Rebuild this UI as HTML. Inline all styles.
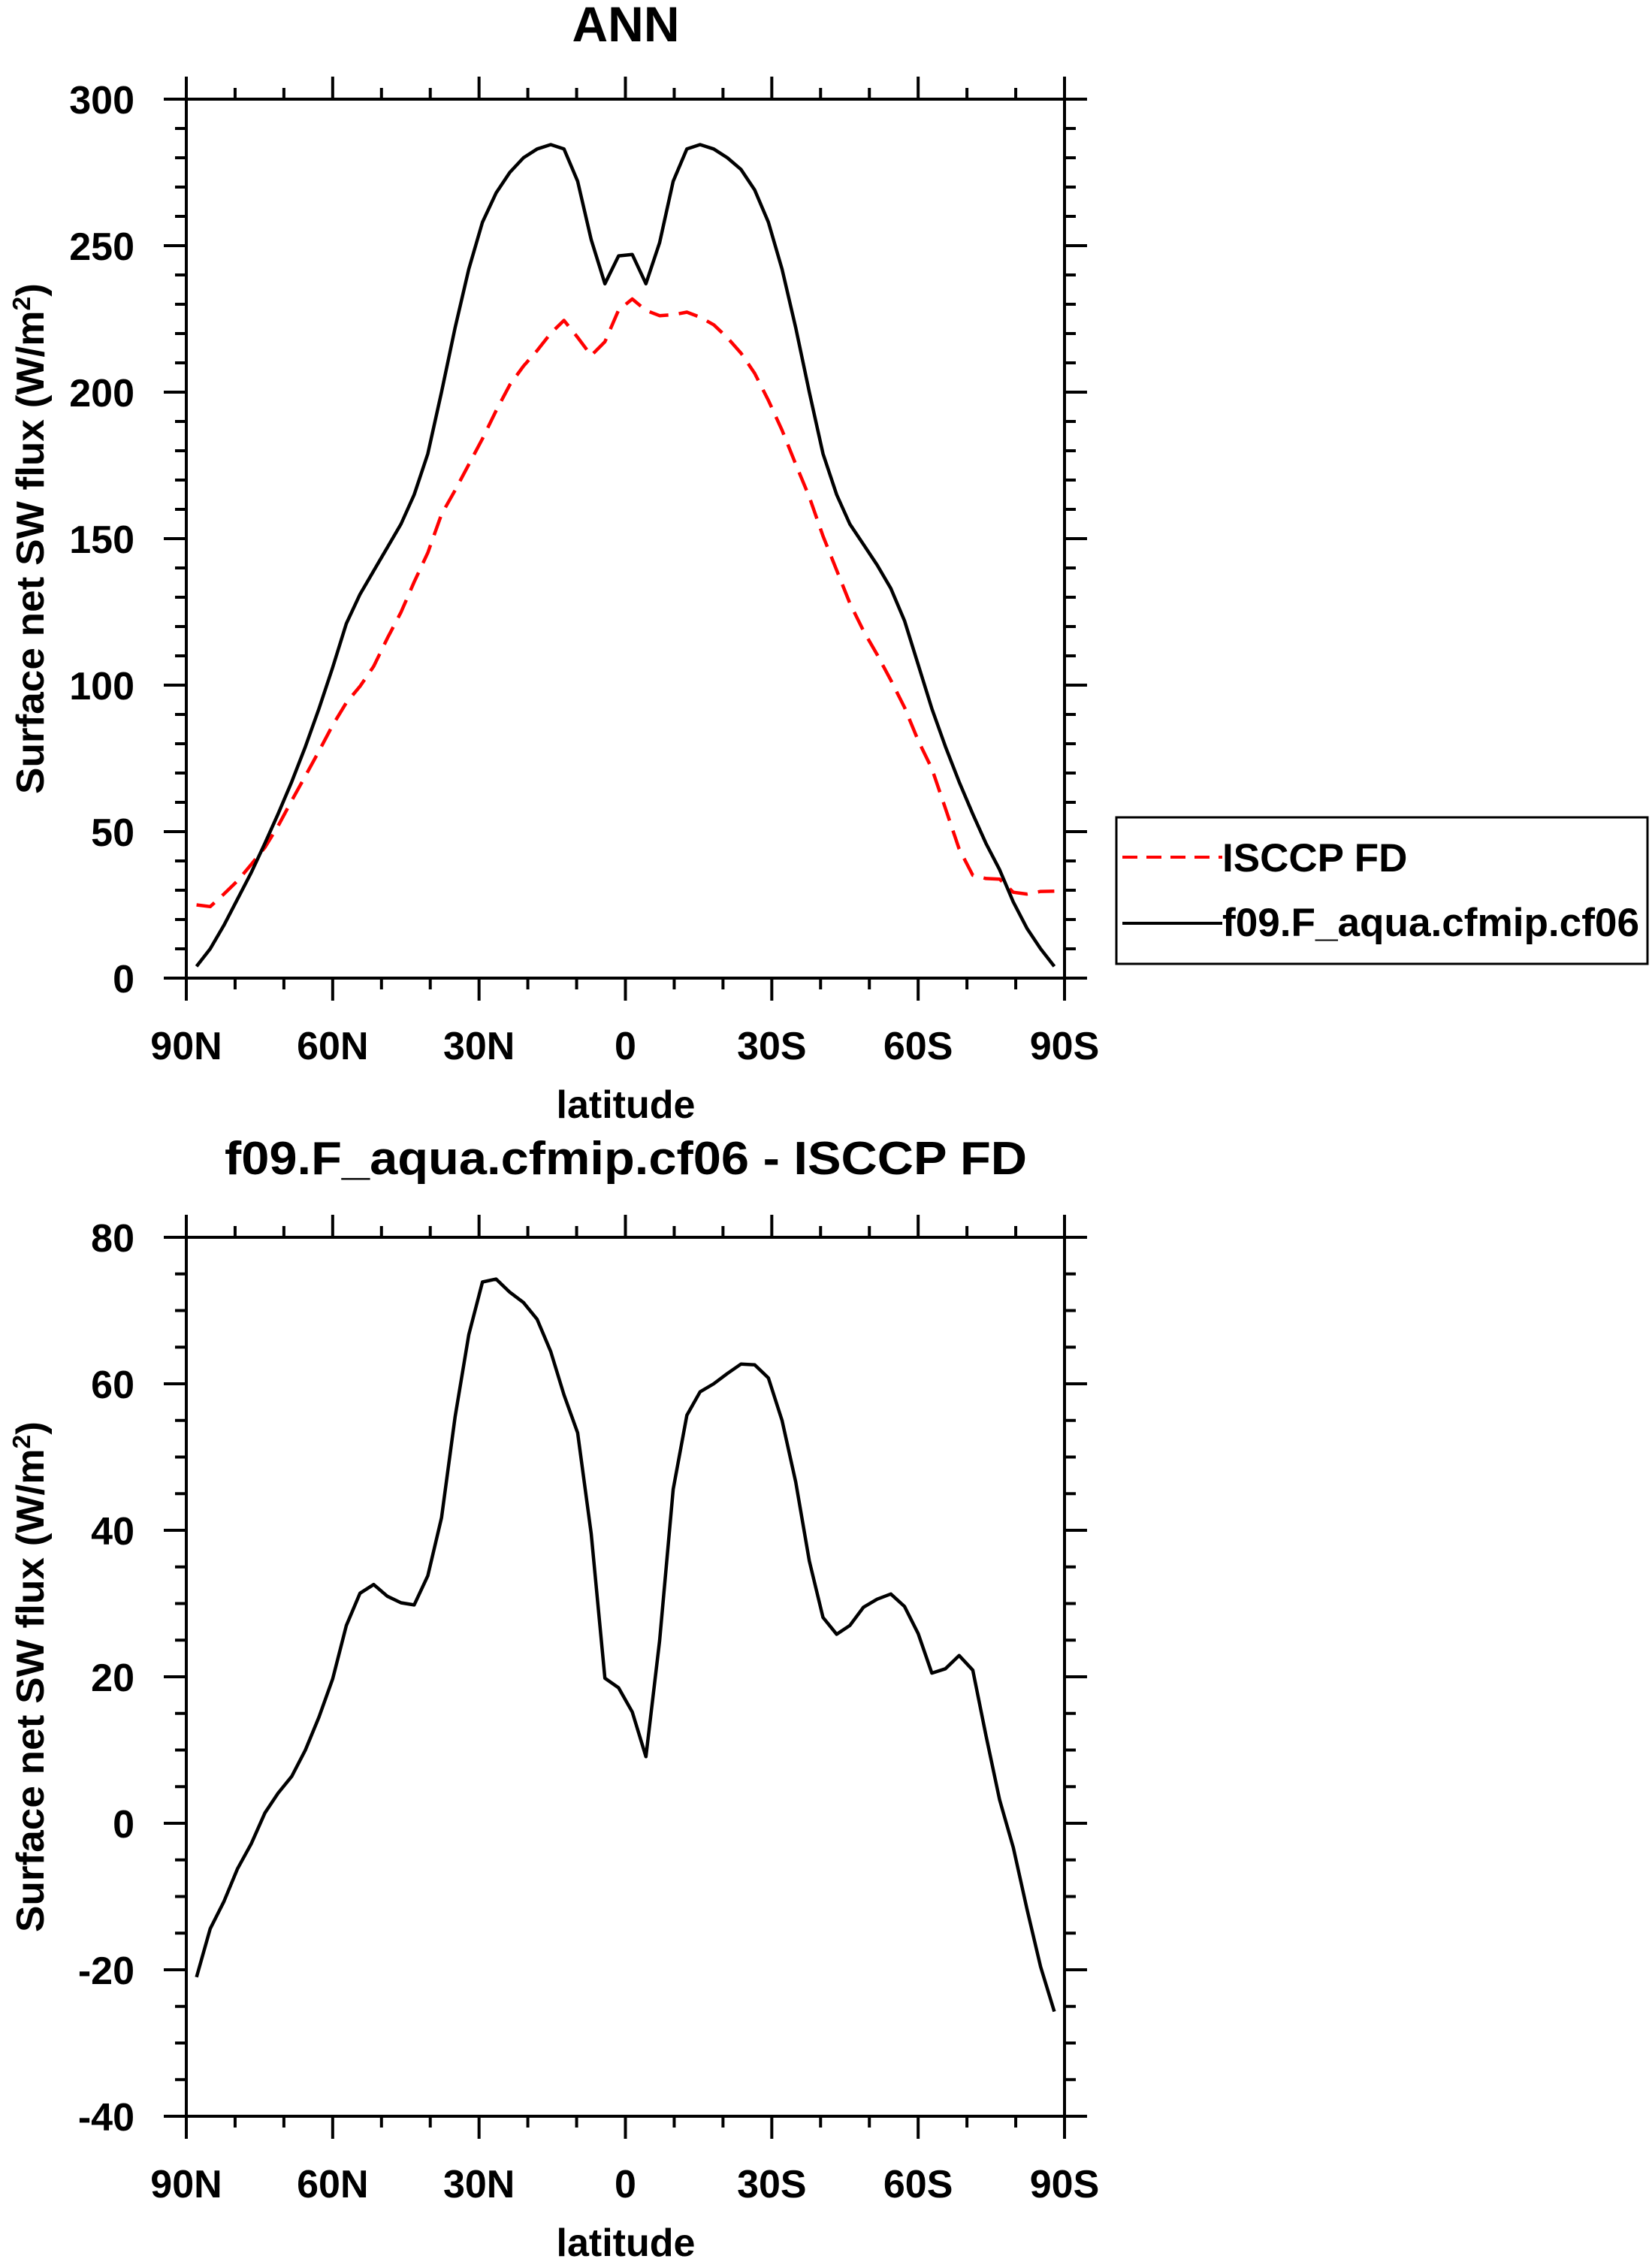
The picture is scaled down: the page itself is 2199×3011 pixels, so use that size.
<!DOCTYPE html>
<html><head><meta charset="utf-8"><style>
html,body{margin:0;padding:0;background:#fff;}
svg{display:block;font-family:"Liberation Sans",sans-serif;font-weight:bold;}
</style></head><body>
<svg id="chart" width="2199" height="3011" viewBox="0 0 2199 3011" xmlns="http://www.w3.org/2000/svg"></svg>
<script>
const lats = [87.9,85.1,82.3,79.5,76.7,73.9,71.2,68.4,65.6,62.8,60.0,57.2,54.4,51.6,48.8,46.0,43.3,40.5,37.7,34.9,32.1,29.3,26.5,23.7,20.9,18.1,15.3,12.6,9.8,7.0,4.2,1.4,
 -1.4,-4.2,-7.0,-9.8,-12.6,-15.3,-18.1,-20.9,-23.7,-26.5,-29.3,-32.1,-34.9,-37.7,-40.5,-43.3,-46.0,-48.8,-51.6,-54.4,-57.2,-60.0,-62.8,-65.6,-68.4,-71.2,-73.9,-76.7,-79.5,-82.3,-85.1,-87.9];
const modelVals = [4,10,18,27,36,46,56,67,79,92,106,121,131,139,147,155,165,179,200,222,242,258,268,275,280,283,284.5,283,272,252,237,246.5,
 247,237,251,272,283,284.5,283,280,276,269,258,242,222,200,179,165,155,148,141,133,122,107,92,79,67,56,46,37,26,17,10,4];
const obsVals = [25,24.4,28.7,33.2,38.8,44.6,51.9,60.6,69,77.5,86.3,94,99.6,106.4,116,124.9,135.2,145.2,158.3,166.5,175.3,184.1,193.7,202.5,208.9,214.2,220.1,224.5,218.7,212.5,217.2,228,
 231.8,227.9,226.1,226.4,227.3,225.6,223,218.6,213.3,206.4,197.2,187,175.4,164.2,150.9,139.2,128,118.5,110.4,101.7,92.4,81.1,71.5,57.9,44.1,35.1,34,33.8,29.3,28.7,29.6,29.7];
const diffVals = [-21,-14.4,-10.7,-6.2,-2.8,1.4,4.1,6.4,10,14.5,19.7,27,31.4,32.6,31,30.1,29.8,33.8,41.7,55.5,66.7,73.9,74.3,72.5,71.1,68.8,64.4,58.5,53.3,39.5,19.8,18.5,
 15.2,9.1,24.9,45.6,55.7,58.9,60,61.4,62.7,62.6,60.8,55,46.6,35.8,28.1,25.8,27,29.5,30.6,31.3,29.6,25.9,20.5,21.1,22.9,20.9,12,3.2,-3.3,-11.7,-19.6,-25.7];
const xTickVals = [90,60,30,0,-30,-60,-90];
const xTickLabels = ["90N","60N","30N","0","30S","60S","90S"];
const yTicksTop = [0,50,100,150,200,250,300];
const yTicksBot = [-40,-20,0,20,40,60,80];

const NS="http://www.w3.org/2000/svg";
const svg=document.getElementById('chart');
function mk(tag,attrs,parent){const e=document.createElementNS(NS,tag);for(const k in attrs)e.setAttribute(k,attrs[k]);(parent||svg).appendChild(e);return e;}

function panel(cfg){
  const L=248,R=1417,T=cfg.top,B=cfg.top+1170;
  const xs=v=>L+(90-v)/180*(R-L);
  const ys=v=>B-(v-cfg.ymin)/(cfg.ymax-cfg.ymin)*(B-T);
  const g=mk('g',{});
  
  
  const tAttrs={x:833,y:cfg.titleY,'font-size':cfg.titleSize,'text-anchor':'middle'};
  if(cfg.titleLen){tAttrs.textLength=cfg.titleLen;tAttrs.lengthAdjust='spacingAndGlyphs';}
  const t=mk('text',tAttrs,g);
  t.textContent=cfg.title;
  
  
  const tk=mk('g',{stroke:'#000','stroke-width':4},g);
  
  
  for(let v=-90;v<=90;v+=10){const x=xs(v);const len=(v%30===0)?30:15;
    mk('line',{x1:x,y1:B,x2:x,y2:B+len},tk);mk('line',{x1:x,y1:T,x2:x,y2:T-len},tk);}
  for(let v=cfg.ymin;v<=cfg.ymax+1e-9;v+=cfg.minor){const y=ys(v);const len=(Math.abs(v%cfg.major)<1e-9)?30:15;
    mk('line',{x1:L,y1:y,x2:L-len,y2:y},tk);mk('line',{x1:R,y1:y,x2:R+len,y2:y},tk);}
  const fr=mk('rect',{x:L,y:T,width:R-L,height:B-T,fill:'none',stroke:'#000','stroke-width':4},g);
  
  
  xTickVals.forEach((v,i)=>{const e=mk('text',{x:xs(v),y:B+108,'font-size':52,'text-anchor':'middle'},g);e.textContent=xTickLabels[i];
    
    });
  cfg.yTicks.forEach(v=>{const e=mk('text',{x:179,y:ys(v)+19,'font-size':52,'text-anchor':'end'},g);e.textContent=String(v);
    
    });
  const xl=mk('text',{x:833,y:B+cfg.xlabOff,'font-size':52,'text-anchor':'middle'},g);xl.textContent='latitude';
  
  
  const cy=(T+B)/2;
  const yl=mk('text',{x:0,y:0,'font-size':52,'text-anchor':'middle',textLength:680,lengthAdjust:'spacingAndGlyphs',transform:`translate(58,${cy}) rotate(-90)`},g);
  yl.innerHTML='Surface net SW flux (W/m<tspan dy="-18" font-size="33">2</tspan><tspan dy="18">)</tspan>';
  
  
  cfg.series.forEach(s=>{
    const p=mk('polyline',{points:lats.map((la,i)=>xs(la).toFixed(1)+','+ys(s.vals[i]).toFixed(1)).join(' '),fill:'none',stroke:s.color,'stroke-width':4.5,'stroke-linejoin':'round','stroke-dasharray':s.dash||'none'},g);
    
    
  });
}
panel({name:'annual-panel',top:132,ymin:0,ymax:300,minor:10,major:50,yTicks:yTicksTop,title:'ANN',titleY:55,titleSize:66,xlabOff:186,
  series:[{vals:obsVals,color:'#f00',dash:'26 14',name:'isccp-line'},{vals:modelVals,color:'#000',name:'model-line'}]});
panel({name:'difference-panel',top:1647,ymin:-40,ymax:80,minor:5,major:20,yTicks:yTicksBot,title:'f09.F_aqua.cfmip.cf06 - ISCCP FD',titleY:1563,titleSize:62,titleLen:1068,xlabOff:186,
  series:[{vals:diffVals,color:'#000',name:'difference-line'}]});

const lg=mk('g',{});


mk('rect',{x:1486,y:1088,width:707,height:195,fill:'#fff',stroke:'#000','stroke-width':3},lg);
const l1=mk('line',{x1:1494,y1:1141,x2:1627,y2:1141,stroke:'#f00','stroke-width':4,'stroke-dasharray':'20 12'},lg);


const t1=mk('text',{x:1627,y:1160,'font-size':53},lg);t1.textContent='ISCCP FD';


const l2=mk('line',{x1:1494,y1:1229,x2:1627,y2:1229,stroke:'#000','stroke-width':4},lg);


const t2=mk('text',{x:1627,y:1246,'font-size':53,textLength:555,lengthAdjust:'spacingAndGlyphs'},lg);t2.textContent='f09.F_aqua.cfmip.cf06';


</script>
</body></html>
